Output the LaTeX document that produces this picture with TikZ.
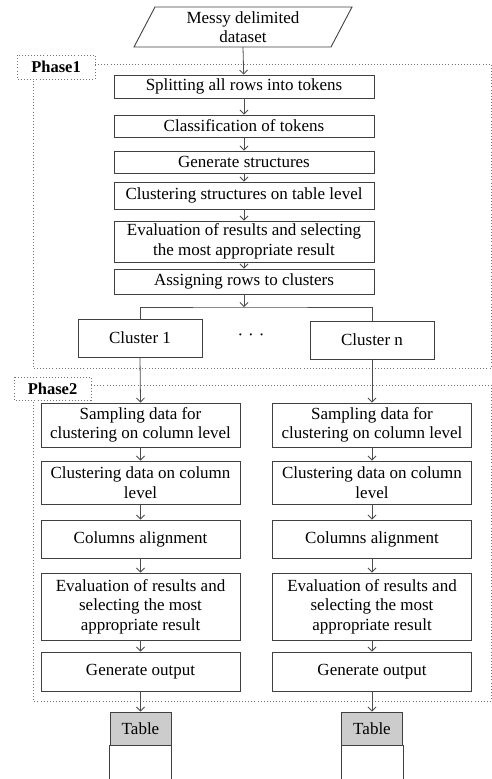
\documentclass[tikz,border=0pt]{standalone}
\usepackage{fontspec}
\setmainfont{Liberation Serif}
\usetikzlibrary{arrows.meta}
\begin{document}
\begin{tikzpicture}[x=1pt,y=-1pt,
  every node/.style={font=\fontsize{17}{19.5}\selectfont, inner sep=0pt, align=center},
  box/.style={draw=black!75, line width=0.9pt, minimum width=260pt},
  colbox/.style={draw=black!75, line width=0.9pt, minimum width=199pt},
  clbox/.style={draw=black!75, line width=0.9pt, minimum width=124pt, minimum height=38pt},
  tabhead/.style={draw=black!75, line width=0.9pt, fill=black!20, minimum width=61pt, minimum height=33pt},
  arr/.style={draw=black!70, line width=0.8pt, -{Straight Barb[length=4pt,width=8pt]}},
  ln/.style={draw=black!70, line width=0.8pt},
  dot/.style={draw=black!55, line width=0.9pt, dash pattern=on 0.9pt off 2.2pt},
  phase/.style={font=\fontsize{16.5}{18}\selectfont\bfseries}]
\useasboundingbox (0,0) rectangle (492,779);
% input parallelogram
\draw[black!75, line width=0.9pt] (134,47) -- (155,7) -- (352,7) -- (331,47) -- cycle;
\node[minimum width=180pt, minimum height=40pt] (in) at (243,27) {Messy delimited\\dataset};
% phase 1 frame
\draw[dot] (17,55) rectangle (95,79);
\node[phase] (p1) at (56,67) {Phase1};
\draw[dot] (95,64) -- (491,64) -- (491,368) -- (33,368) -- (33,79);
% phase 1 boxes
\node[box, minimum height=23pt] (b1) at (244,86.5) {Splitting all rows into tokens};
\node[box, minimum height=22pt] (b2) at (244,126) {Classification of tokens};
\node[box, minimum height=22pt] (b3) at (244,162) {Generate structures};
\node[box, minimum height=27pt] (b4) at (244,195.5) {Clustering structures on table level};
\node[box, minimum height=41pt] (b5) at (244,241.5) {Evaluation of results and selecting\\the most appropriate result};
\node[box, minimum height=25pt] (b6) at (244,281.5) {Assigning rows to clusters};
\draw[arr] (in.south) -- (b1);
\draw[arr] (b1) -- (b2);
\draw[arr] (b2) -- (b3);
\draw[arr] (b3) -- (b4);
\draw[arr] (b4) -- (b5);
\draw[arr] (b5) -- (b6);
\coordinate (split) at (244,307);
\draw[arr] (b6) -- (split);
\node[clbox] (c1) at (140,338) {Cluster 1};
\node[clbox] (cn) at (372,340) {Cluster n};
\node (dots) at (251,337) {·\hspace{5pt}·\hspace{5pt}·};
\draw[ln] (c1.north) |- (split) -| (cn.north);
% phase 2 frame
\draw[dot] (14,377) rectangle (91,400);
\node[phase] (p2) at (52.5,388.5) {Phase2};
\draw[dot] (91,385) -- (491,385) -- (491,701) -- (33,701) -- (33,400);
% left column
\node[colbox, minimum height=44pt] (la) at (140.5,425) {Sampling data for\\clustering on column level};
\node[colbox, minimum height=43pt] (lb) at (140.5,482.5) {Clustering data on column\\level};
\node[colbox, minimum height=38pt] (lc) at (140.5,539) {Columns alignment};
\node[colbox, minimum height=67pt] (ld) at (140.5,606.5) {Evaluation of results and\\selecting the most\\appropriate result};
\node[colbox, minimum height=39pt] (le) at (140.5,671.5) {Generate output};
\node[tabhead] (lt) at (140.5,728.5) {Table};
% right column
\node[colbox, minimum height=44pt] (ra) at (372,425) {Sampling data for\\clustering on column level};
\node[colbox, minimum height=43pt] (rb) at (372,482.5) {Clustering data on column\\level};
\node[colbox, minimum height=38pt] (rc) at (372,539) {Columns alignment};
\node[colbox, minimum height=67pt] (rd) at (372,606.5) {Evaluation of results and\\selecting the most\\appropriate result};
\node[colbox, minimum height=39pt] (re) at (372,671.5) {Generate output};
\node[tabhead] (rt) at (372,728.5) {Table};
% table bodies
\draw[black!75, line width=0.9pt] (lt.south west) -- ++(0,40) (lt.south east) -- ++(0,40);
\draw[black!75, line width=0.9pt] (rt.south west) -- ++(0,40) (rt.south east) -- ++(0,40);
% arrows
\draw[arr] (c1.south) -- (la.north);
\draw[arr] (la) -- (lb);
\draw[arr] (lb) -- (lc);
\draw[arr] (lc) -- (ld);
\draw[arr] (ld) -- (le);
\draw[arr] (le) -- (lt);
\draw[arr] (cn.south) -- (ra.north);
\draw[arr] (ra) -- (rb);
\draw[arr] (rb) -- (rc);
\draw[arr] (rc) -- (rd);
\draw[arr] (rd) -- (re);
\draw[arr] (re) -- (rt);
\end{tikzpicture}
\end{document}
